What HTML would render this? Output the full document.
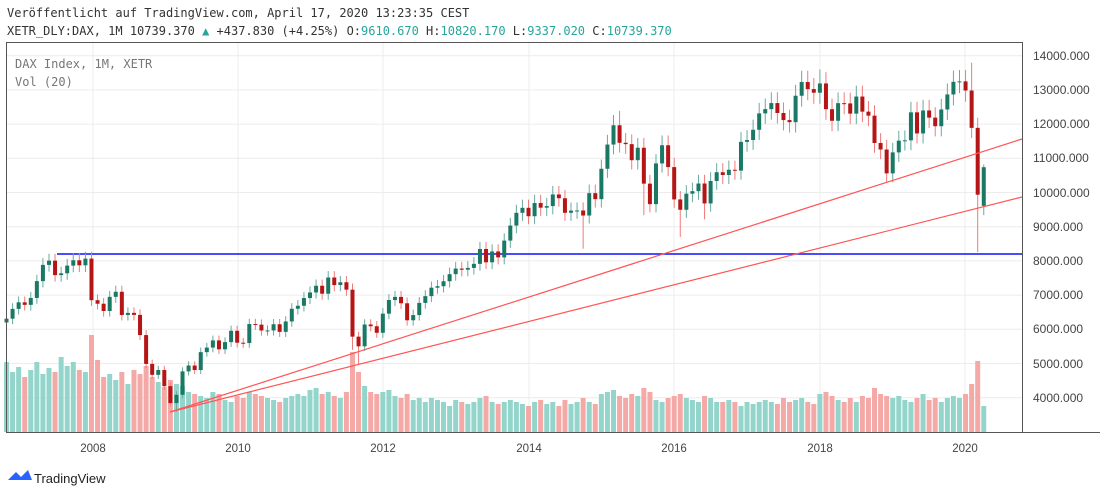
<!DOCTYPE html>
<html><head><meta charset="utf-8"><style>
body{margin:0;background:#fff;width:1100px;height:496px;overflow:hidden;font-family:"DejaVu Sans Mono","Liberation Mono",monospace;}
.t{position:absolute;font-size:12px;color:#333;white-space:nowrap}
</style></head><body>
<div class="t" style="left:7px;top:6px;">Veröffentlicht auf TradingView.com, April 17, 2020 13:23:35 CEST</div>
<div class="t" style="left:7px;top:24px;">XETR_DLY:DAX, 1M 10739.370 <span style="color:#26a69a">▲</span> +437.830 (+4.25%) O:<span style="color:#26a69a">9610.670</span> H:<span style="color:#26a69a">10820.170</span> L:<span style="color:#26a69a">9337.020</span> C:<span style="color:#26a69a">10739.370</span></div>
<svg id="s" width="1100" height="496" style="position:absolute;left:0;top:0" font-family="Liberation Sans, sans-serif">
<g id="grid" stroke="#ececec" stroke-width="1"></g>
<g id="vol"></g>
<line x1="57" y1="254" x2="1022" y2="254" stroke="#1010ff" stroke-width="1.5"/>
<g id="cnd"></g>
<line x1="170" y1="412" x2="1022" y2="139" stroke="#f55" stroke-width="1.2"/>
<line x1="170" y1="412" x2="1022" y2="197" stroke="#f55" stroke-width="1.2"/>
<rect x="6.5" y="42.5" width="1016" height="390" fill="none" stroke="#555"/>
<line x1="1023" y1="432.5" x2="1100" y2="432.5" stroke="#555"/>
<g font-size="12" fill="#444">
<text x="1033" y="60">14000.000</text><text x="1033" y="94">13000.000</text><text x="1033" y="128">12000.000</text><text x="1033" y="162">11000.000</text><text x="1033" y="197">10000.000</text><text x="1033" y="231">9000.000</text><text x="1033" y="265">8000.000</text><text x="1033" y="299">7000.000</text><text x="1033" y="333">6000.000</text><text x="1033" y="368">5000.000</text><text x="1033" y="402">4000.000</text>
</g>
<g font-size="11.5" fill="#444" text-anchor="middle">
<text x="93" y="452">2008</text><text x="238" y="452">2010</text><text x="383" y="452">2012</text><text x="529" y="452">2014</text><text x="674" y="452">2016</text><text x="820" y="452">2018</text><text x="965" y="452">2020</text>
</g>
<text x="15" y="68" font-size="12" fill="#777" font-family="DejaVu Sans Mono, monospace">DAX Index, 1M, XETR</text>
<text x="15" y="86" font-size="12" fill="#777" font-family="DejaVu Sans Mono, monospace">Vol (20)</text>
<g transform="translate(8,470)"><path d="M0 10 L8 2 L13 7 L20 0 L24 10 Z" fill="#2962ff"/></g>
<text x="34" y="483" font-size="13" fill="#222">TradingView</text>
</svg>
<script>
var C=[6310,6597,6789,6715,6917,7409,7883,8007,7584,7638,7862,8019,7871,8067,
6851,6748,6535,6949,7097,6418,6480,6422,5831,4988,4669,4810,
4338,3843,4085,4770,4941,4809,5332,5465,5675,5415,5626,5957,
5608,5598,6154,6136,5965,5966,6148,5925,6229,6601,6688,6914,
7077,7273,7041,7514,7294,7376,7159,5785,5502,6141,6089,5898,
6458,6856,6947,6761,6264,6416,6772,6970,7216,7260,7405,7612,
7776,7742,7795,7914,8349,7959,8276,8103,8594,9033,9406,9552,
9306,9692,9556,9603,9943,9833,9407,9470,9474,9327,9981,9806,
10694,11402,11966,11454,11414,10945,11309,10259,9660,10850,11382,10743,
9798,9495,9966,10039,10263,9680,10337,10593,10511,10665,10640,11481,
11535,11834,12313,12438,12615,12325,12118,12056,12829,13230,13024,12918,
13189,12436,12097,12612,12605,12306,12806,12364,12247,11448,11257,10559,
11173,11516,11526,12344,11727,12399,12189,11939,12428,12867,13236,13249,
12982,11890,9936,10739];
var L={57:5400,58:4966,28:3589,95:8355,111:8700,105:9338,115:9214,145:10279,160:8256,161:9337};
var H={159:13795,134:13597,161:10820,101:12390};
function Y(p){return 55.7+(14000-p)*0.0342;}
var vh=[70,60,65,55,62,70,58,64,60,75,66,70,62,60,97,72,55,58,52,60,48,62,58,66,55,50,
45,52,48,46,40,38,36,34,40,38,32,30,36,34,40,38,36,34,32,30,34,36,38,36,
42,44,38,40,36,34,40,80,60,46,40,38,40,42,36,34,38,32,34,30,34,32,30,26,
32,30,28,30,34,36,30,28,30,32,30,28,26,30,32,28,30,26,32,28,30,34,30,28,
38,40,42,36,34,38,36,44,40,32,30,34,36,38,34,32,30,36,34,30,30,32,30,26,
30,28,30,32,30,28,34,30,32,34,30,28,38,40,36,32,30,34,30,36,34,44,38,36,
34,36,32,30,34,38,32,34,30,34,36,34,38,48,71,26];
var s="",v="",g="";
for(var i=0;i<C.length;i++){
 var o=i?C[i-1]:6200,c=C[i],x=6.5+i*6.07;
 if(i==161)o=9610;
 var hi=H[i]||Math.max(o,c)*1.025, lo=L[i]||Math.min(o,c)*0.975;
 var up=c>=o;
 var wc=up?"#6aa99f":"#f07b7b", bc=up?"#1a7864":"#b51515";
 s+='<line x1="'+x+'" x2="'+x+'" y1="'+Y(hi)+'" y2="'+Y(lo)+'" stroke="'+wc+'"/>';
 var t=Y(Math.max(o,c)),b=Y(Math.min(o,c));
 s+='<rect x="'+(x-2)+'" y="'+t+'" width="4" height="'+Math.max(1,b-t)+'" fill="'+bc+'"/>';
 var h=vh[i]||30;
 v+='<rect x="'+(x-2.5)+'" y="'+(432-h)+'" width="5" height="'+h+'" fill="'+(up?"#93d5cb":"#f5a9a7")+'"/>';
}
for(var p=4000;p<=14000;p+=1000){var y=Y(p);g+='<line x1="7" x2="1022" y1="'+y+'" y2="'+y+'"/>';}
[93,238,383,529,674,820,965].forEach(function(x){g+='<line x1="'+x+'" x2="'+x+'" y1="43" y2="432"/>';});
document.getElementById("cnd").innerHTML=s;
document.getElementById("vol").innerHTML=v;
document.getElementById("grid").innerHTML=g;
</script>
</body></html>
